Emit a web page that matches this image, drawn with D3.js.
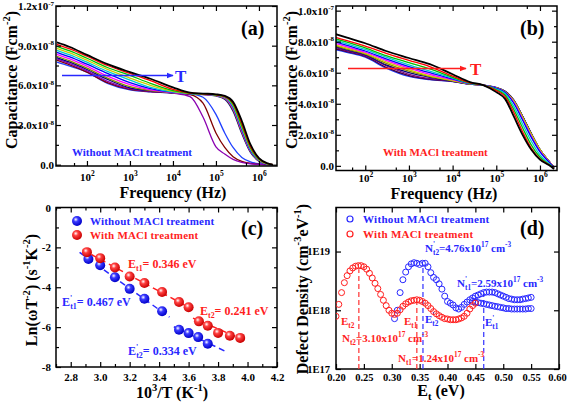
<!DOCTYPE html>
<html><head><meta charset="utf-8">
<script src="https://cdn.jsdelivr.net/npm/d3@7"></script>
<style>body{margin:0;background:#fff}svg{display:block}</style>
</head><body><svg id="c" width="567" height="406"></svg>
<script>
// ---------- DATA ----------
// (a),(b) frequency sample points (Hz)
const freqHz = [20, 40, 100, 300, 1000, 3000, 1e4, 2.5e4, 5e4, 1e5, 1.6e5, 2.5e5, 4e5, 6.3e5, 1e6, 1.6e6, 2.1e6];
// (a) capacitance, units 1e-8 F cm^-2 (without MACl)
const a1 = [9.25, 8.9, 8.3, 7.6, 7.0, 6.5, 5.85, 5.45, 5.38, 5.32, 5.2, 4.75, 3.3, 1.55, 0.5, 0.1, 0.0];
const a2 = [9.1, 8.75, 8.2, 7.5, 6.9, 6.35, 5.7, 5.42, 5.36, 5.3, 5.17, 4.65, 3.1, 1.4, 0.45, 0.08, 0.0];
const a3 = [8.95, 8.6, 8.05, 7.35, 6.75, 6.15, 5.6, 5.4, 5.35, 5.28, 5.14, 4.55, 2.95, 1.3, 0.4, 0.07, 0.0];
const a4 = [8.8, 8.45, 7.9, 7.2, 6.55, 6.0, 5.55, 5.4, 5.34, 5.27, 5.12, 4.5, 2.85, 1.25, 0.38, 0.06, 0.0];
const a5 = [8.65, 8.3, 7.75, 7.05, 6.4, 5.85, 5.5, 5.38, 5.33, 5.26, 5.1, 4.4, 2.75, 1.18, 0.35, 0.05, 0.0];
const a6 = [8.5, 8.15, 7.6, 6.9, 6.2, 5.75, 5.48, 5.38, 5.33, 5.25, 5.08, 4.35, 2.65, 1.1, 0.32, 0.05, 0.0];
const a7 = [8.35, 8.0, 7.45, 6.7, 6.05, 5.65, 5.46, 5.37, 5.32, 5.24, 5.05, 4.25, 2.55, 1.05, 0.3, 0.04, 0.0];
const a8 = [8.2, 7.85, 7.3, 6.55, 5.9, 5.6, 5.45, 5.37, 5.32, 5.22, 5.0, 4.15, 2.45, 1.0, 0.28, 0.04, 0.0];
const a9 = [8.1, 7.75, 7.2, 6.45, 5.8, 5.58, 5.44, 5.36, 5.3, 5.2, 4.95, 4.05, 2.35, 0.95, 0.26, 0.03, 0.0];
const a10 = [8.0, 7.65, 7.1, 6.3, 5.75, 5.55, 5.42, 5.15, 3.6, 1.35, 0.8, 0.4, 0.18, 0.07, 0.02, 0.0, 0.0];
const a11 = [7.9, 7.55, 7.0, 6.2, 5.7, 5.52, 5.42, 5.3, 4.65, 2.4, 1.3, 0.6, 0.25, 0.1, 0.03, 0.0, 0.0];
const a12 = [7.75, 7.45, 7.0, 6.15, 5.65, 5.5, 5.42, 5.35, 5.1, 3.8, 2.4, 1.3, 0.55, 0.22, 0.07, 0.01, 0.0];
const colorsA = ['#000000','#ff0000','#00c000','#cccc00','#00cccc','#0000ff','#ff00ff','#8c8c00','#000080','#8a00b0','#800000','#2040ff'];
// (b) capacitance, units 1e-8 F cm^-2 (with MACl)
const b1 = [8.5, 8.25, 7.9, 7.4, 6.95, 6.55, 5.9, 5.4, 5.2, 4.75, 4.3, 3.2, 2.0, 1.05, 0.4, 0.05, -0.2];
const b2 = [8.3, 8.05, 7.72, 7.25, 6.8, 6.4, 5.78, 5.35, 5.2, 4.85, 4.45, 3.45, 2.2, 1.15, 0.45, 0.07, -0.18];
const b3 = [8.2, 7.95, 7.6, 7.1, 6.65, 6.25, 5.7, 5.33, 5.2, 4.9, 4.55, 3.65, 2.45, 1.35, 0.55, 0.1, -0.16];
const b4 = [8.1, 7.85, 7.5, 7.0, 6.5, 6.1, 5.65, 5.32, 5.2, 4.95, 4.65, 3.85, 2.7, 1.6, 0.7, 0.15, -0.15];
const b5 = [8.0, 7.75, 7.4, 6.9, 6.4, 6.0, 5.6, 5.3, 5.2, 5.0, 4.72, 4.05, 2.95, 1.85, 0.9, 0.25, -0.12];
const b6 = [7.9, 7.65, 7.32, 6.8, 6.3, 5.9, 5.55, 5.3, 5.2, 5.0, 4.72, 4.1, 3.0, 1.9, 0.95, 0.27, -0.1];
const b7 = [7.8, 7.57, 7.25, 6.7, 6.2, 5.8, 5.5, 5.28, 5.2, 5.02, 4.76, 4.2, 3.15, 2.05, 1.05, 0.3, -0.1];
const b8 = [7.75, 7.5, 7.2, 6.6, 6.1, 5.75, 5.48, 5.28, 5.2, 5.02, 4.76, 4.2, 3.15, 2.05, 1.05, 0.3, -0.1];
const b9 = [7.7, 7.45, 7.15, 6.5, 6.0, 5.7, 5.46, 5.27, 5.2, 5.03, 4.78, 4.22, 3.18, 2.08, 1.05, 0.3, -0.1];
const b10 = [7.62, 7.4, 7.1, 6.45, 5.9, 5.62, 5.45, 5.27, 5.2, 5.03, 4.78, 4.22, 3.18, 2.08, 1.05, 0.3, -0.1];
const b11 = [7.55, 7.35, 7.05, 6.35, 5.82, 5.58, 5.44, 5.26, 5.2, 5.04, 4.8, 4.25, 3.2, 2.1, 1.05, 0.3, -0.1];
const b12 = [7.5, 7.3, 7.0, 6.3, 5.76, 5.55, 5.43, 5.26, 5.2, 5.05, 4.8, 4.25, 3.2, 2.1, 1.05, 0.3, -0.1];
const colorsB = ['#000000','#ff0000','#00c000','#00cccc','#0000ff','#ff00ff','#cccc00','#8c8c00','#000080','#800080','#400040','#2040ff'];
// (c) Arrhenius points
const tInvBlue = [2.92, 3.00, 3.10, 3.20, 3.30, 3.42, 3.535, 3.60, 3.665, 3.73];
const lnBlue = [-2.58, -2.90, -3.50, -4.08, -4.58, -5.20, -6.13, -6.30, -6.50, -6.83];
const tInvRed = [2.91, 3.00, 3.10, 3.20, 3.30, 3.42, 3.535, 3.60, 3.67, 3.73, 3.80, 3.88, 3.95];
const lnRed = [-2.24, -2.54, -3.01, -3.46, -3.79, -4.24, -4.74, -5.00, -5.71, -5.93, -6.29, -6.43, -6.54];
const fitBlue1 = [[2.86, -2.25], [3.47, -5.50]];
const fitBlue2 = [[3.50, -5.98], [3.86, -7.25]];
const fitRed1 = [[2.88, -2.12], [3.62, -5.08]];
const fitRed2 = [[3.63, -5.55], [4.00, -6.72]];
// (d) defect density, units 1e17 cm^-3 eV^-1
const etRed = [0.200,0.205,0.210,0.215,0.220,0.225,0.230,0.235,0.240,0.245,0.250,0.255,0.260,0.265,0.270,0.275,0.280,0.285,0.290,0.295,0.300,0.305,0.310,0.315,0.320,0.325,0.330,0.335,0.340,0.345,0.350,0.355,0.360,0.365,0.370,0.375,0.380,0.385,0.390,0.395,0.400,0.405,0.410,0.415,0.420,0.425,0.430,0.435,0.440,0.445,0.450];
const ntRed = [7.9,12.6,20.0,29.5,38.9,46.8,52.5,56.2,57.5,57.5,55.0,50.1,42.7,35.5,28.8,23.4,18.6,14.8,12.0,10.0,8.9,8.5,8.9,10.2,11.7,12.9,13.8,14.5,14.8,15.1,14.8,14.1,13.2,12.0,10.7,9.5,8.7,8.1,7.6,7.2,7.1,6.9,6.9,6.9,7.1,7.4,7.9,8.9,10.5,12.0,13.2];
const etBlue = [0.305,0.310,0.315,0.320,0.325,0.330,0.335,0.340,0.345,0.350,0.355,0.360,0.365,0.370,0.375,0.380,0.385,0.390,0.395,0.400,0.405,0.410,0.415,0.420,0.425,0.430,0.435,0.440,0.445,0.450,0.455,0.460,0.465,0.470,0.475,0.480,0.485,0.490,0.495,0.500,0.505,0.510,0.515,0.520,0.525,0.530,0.535,0.540,0.545,0.550];
const ntBlue = [7.2,10.0,20.0,33.1,44.7,55.0,61.7,64.6,63.1,60.3,63.1,63.1,55.0,43.7,36.3,33.1,28.2,22.9,17.4,14.1,13.2,12.3,11.0,10.5,11.2,12.6,13.8,15.1,16.2,17.4,18.2,19.1,20.0,20.4,20.4,20.4,20.0,19.1,18.2,17.4,16.6,15.8,15.5,15.1,15.1,15.1,15.5,15.8,16.2,16.6];
const etBlueLow = [0.445,0.450,0.455,0.460,0.465,0.470,0.475,0.480,0.485,0.490,0.495,0.500,0.505,0.510,0.515,0.520,0.525,0.530,0.535,0.540,0.545,0.550];
const ntBlueLow = [14.1,13.8,13.5,13.2,12.9,12.6,12.3,12.0,11.7,11.5,11.2,11.0,10.7,10.7,10.5,10.5,10.5,10.5,10.5,10.5,10.7,10.7];
const dropEt = [0.241, 0.345, 0.356, 0.465];
const dropTop = [50, 14, 60, 19];
const dropColor = ['#ff3030', '#ff3030', '#3030ff', '#3030ff'];

// ---------- DRAWING ----------
const svg = d3.select('#c');
const FONT = "'Liberation Serif','Times New Roman',serif";
const BLUE = '#2828ff', RED = '#ff1e1e';

function rich(g, x, y, segs, size, fill) {
  const t = g.append('text').attr('x', x).attr('y', y).attr('font-size', size)
    .attr('font-family', FONT).attr('font-weight', 'bold').attr('fill', fill || '#000');
  let cur = 0;
  segs.forEach(s => {
    if (typeof s === 'string') s = {t: s};
    const off = s.sup ? -0.42 * size : s.sub ? 0.28 * size : 0;
    const ts = t.append('tspan').text(s.t).attr('dy', off - cur);
    if (s.sup || s.sub) ts.attr('font-size', size * 0.66);
    if (s.dx) ts.attr('dx', s.dx);
    cur = off;
  });
  return t;
}

function frame(x, y, o) {
  const [x0, x1] = x.range(), [y0, y1] = y.range();
  const add = (tr, ax) => {
    const g = svg.append('g').attr('transform', tr).call(ax);
    g.select('.domain').remove();
    g.selectAll('line').attr('stroke', '#000').attr('stroke-width', 1.2);
    g.selectAll('text').attr('font-family', FONT).attr('font-weight', 'bold').attr('font-size', o.fs || 11).attr('fill', '#000');
    return g;
  };
  const bx = add(`translate(0,${y0})`, d3.axisBottom(x).tickValues(o.xMaj).tickSize(-5).tickPadding(o.xPad).tickFormat(o.xFmt));
  add(`translate(0,${y0})`, d3.axisBottom(x).tickValues(o.xMin).tickSize(-3).tickFormat(''));
  add(`translate(0,${y1})`, d3.axisTop(x).tickValues(o.xMaj).tickSize(-5).tickFormat(''));
  add(`translate(0,${y1})`, d3.axisTop(x).tickValues(o.xMin).tickSize(-3).tickFormat(''));
  const ly = add(`translate(${x0},0)`, d3.axisLeft(y).tickValues(o.yMaj).tickSize(-5).tickPadding(o.yPad).tickFormat(o.yFmt));
  add(`translate(${x0},0)`, d3.axisLeft(y).tickValues(o.yMin).tickSize(-3).tickFormat(''));
  add(`translate(${x1},0)`, d3.axisRight(y).tickValues(o.yMaj).tickSize(-5).tickFormat(''));
  add(`translate(${x1},0)`, d3.axisRight(y).tickValues(o.yMin).tickSize(-3).tickFormat(''));
  if (o.xRich) bx.selectAll('.tick text').each(function(d){ o.xRich(d3.select(this), d); });
  if (o.yRich) ly.selectAll('.tick text').each(function(d){ o.yRich(d3.select(this), d); });
  svg.append('rect').attr('x', x0).attr('y', y1).attr('width', x1 - x0).attr('height', y0 - y1)
    .attr('fill', 'none').attr('stroke', '#000').attr('stroke-width', 1.5);
  return bx;
}
function clip(id, x, y) {
  const [x0, x1] = x.range(), [y0, y1] = y.range();
  svg.append('clipPath').attr('id', id).append('rect').attr('x', x0).attr('y', y1).attr('width', x1 - x0).attr('height', y0 - y1);
}
const pow10Rich = (t, d) => { const e = Math.round(Math.log10(d)); t.text(''); t.append('tspan').text('10'); t.append('tspan').attr('dy', -5).attr('font-size', 7.5).text(e); };
const sciRich = (t, d) => {
  t.text('');
  if (d === 0) { t.append('tspan').text('0.0'); return; }
  const e = Math.floor(Math.log10(d) + 1e-9); const m = d / Math.pow(10, e);
  t.append('tspan').text(m.toFixed(1) + 'x10'); t.append('tspan').attr('dy', -4.5).attr('font-size', 7).text(e);
};

const defs = svg.append('defs');
[['gB', '#3a3aff', '#0000c8'], ['gR', '#ff4040', '#c80000']].forEach(([id, c1, c2]) => {
  const gr = defs.append('radialGradient').attr('id', id).attr('cx', '38%').attr('cy', '35%').attr('r', '65%');
  gr.append('stop').attr('offset', '0%').attr('stop-color', '#ffffff');
  gr.append('stop').attr('offset', '35%').attr('stop-color', c1);
  gr.append('stop').attr('offset', '100%').attr('stop-color', c2);
});
defs.append('marker').attr('id', 'arB').attr('viewBox', '0 0 10 10').attr('refX', 9).attr('refY', 5)
  .attr('markerWidth', 7).attr('markerHeight', 7).attr('markerUnits', 'userSpaceOnUse').attr('orient', 'auto')
  .append('path').attr('d', 'M0,1L10,5L0,9z').attr('fill', BLUE);
defs.append('marker').attr('id', 'arR').attr('viewBox', '0 0 10 10').attr('refX', 9).attr('refY', 5)
  .attr('markerWidth', 7).attr('markerHeight', 7).attr('markerUnits', 'userSpaceOnUse').attr('orient', 'auto')
  .append('path').attr('d', 'M0,1L10,5L0,9z').attr('fill', RED);

// ----- Panel (a) -----
{
  const x = d3.scaleLog().domain([Math.pow(10, 1.28), Math.pow(10, 6.42)]).range([56, 277]);
  const y = d3.scaleLinear().domain([-0.1e-8, 1.2e-7]).range([166, 6]);
  clip('clipA', x, y);
  const line = d3.line().x((d, i) => x(freqHz[i])).y(d => y(d * 1e-8)).curve(d3.curveMonotoneX);
  const series = [a1, a2, a3, a4, a5, a6, a7, a8, a9, a10, a11, a12];
  const g = svg.append('g').attr('clip-path', 'url(#clipA)');
  series.map((s, i) => [s, i]).reverse().forEach(([s, i]) => {
    g.append('path').attr('d', line(s)).attr('fill', 'none').attr('stroke', colorsA[i]).attr('stroke-width', i === 0 ? 1.8 : 1.3);
  });
  frame(x, y, {xMaj: [1e2, 1e3, 1e4, 1e5, 1e6], xMin: [50, 500, 5e3, 5e4, 5e5], xPad: 7, xFmt: d => d, xRich: pow10Rich,
    yMaj: [0, 3e-8, 6e-8, 9e-8, 1.2e-7], yMin: [1.5e-8, 4.5e-8, 7.5e-8, 1.05e-7], yPad: 2, yFmt: d => d, yRich: sciRich});
  svg.append('line').attr('x1', 62).attr('x2', 173).attr('y1', 75.5).attr('y2', 75.5).attr('stroke', BLUE).attr('stroke-width', 1.6).attr('marker-end', 'url(#arB)');
  rich(svg, 175, 82, ['T'], 17, BLUE);
  rich(svg, 72, 156, ['Without MACl treatment'], 11, BLUE);
  rich(svg, 241, 35, ['(a)'], 20, '#000');
  rich(svg, 0, 0, ['Capacitance (Fcm', {t: '-2', sup: true}, ')'], 16).attr('text-anchor', 'middle').attr('transform', 'translate(17,80) rotate(-90)');
  rich(svg, 173, 198, ['Frequency (Hz)'], 16).attr('text-anchor', 'middle');
}
// ----- Panel (b) -----
{
  const x = d3.scaleLog().domain([Math.pow(10, 1.33), Math.pow(10, 6.39)]).range([336, 557]);
  const y = d3.scaleLinear().domain([-0.3e-8, 1.03e-7]).range([170.5, 6]);
  clip('clipB', x, y);
  const line = d3.line().x((d, i) => x(freqHz[i])).y(d => y(d * 1e-8)).curve(d3.curveMonotoneX);
  const series = [b1, b2, b3, b4, b5, b6, b7, b8, b9, b10, b11, b12];
  const g = svg.append('g').attr('clip-path', 'url(#clipB)');
  series.map((s, i) => [s, i]).reverse().forEach(([s, i]) => {
    g.append('path').attr('d', line(s)).attr('fill', 'none').attr('stroke', colorsB[i]).attr('stroke-width', i === 0 ? 1.8 : 1.3);
  });
  frame(x, y, {xMaj: [1e2, 1e3, 1e4, 1e5, 1e6], xMin: [50, 500, 5e3, 5e4, 5e5], xPad: 4, xFmt: d => d, xRich: pow10Rich,
    yMaj: [0, 2e-8, 4e-8, 6e-8, 8e-8, 1e-7], yMin: [1e-8, 3e-8, 5e-8, 7e-8, 9e-8], yPad: 2, yFmt: d => d, yRich: sciRich});
  svg.append('line').attr('x1', 348).attr('x2', 466).attr('y1', 68.5).attr('y2', 68.5).attr('stroke', RED).attr('stroke-width', 1.6).attr('marker-end', 'url(#arR)');
  rich(svg, 470, 75, ['T'], 17, RED);
  rich(svg, 383, 156, ['With MACl treatment'], 11, RED);
  rich(svg, 520, 35, ['(b)'], 20, '#000');
  rich(svg, 0, 0, ['Capacitance (Fcm', {t: '-2', sup: true}, ')'], 16).attr('text-anchor', 'middle').attr('transform', 'translate(297,80) rotate(-90)');
  rich(svg, 444, 199, ['Frequency (Hz)'], 16).attr('text-anchor', 'middle');
}
// ----- Panel (c) -----
{
  const x = d3.scaleLinear().domain([2.7, 4.2]).range([56, 277]);
  const y = d3.scaleLinear().domain([-8, 0]).range([367, 207.5]);
  frame(x, y, {xMaj: [2.8, 3.0, 3.2, 3.4, 3.6, 3.8, 4.0, 4.2], xMin: [2.7, 2.9, 3.1, 3.3, 3.5, 3.7, 3.9, 4.1], xPad: 6, xFmt: d3.format('.1f'),
    yMaj: [0, -2, -4, -6, -8], yMin: [-1, -3, -5, -7], yPad: 5, yFmt: d => d === 0 ? '0' : String(d)});
  const ln = d3.line().x(d => x(d[0])).y(d => y(d[1]));
  [[fitBlue1, BLUE], [fitBlue2, BLUE], [fitRed1, RED], [fitRed2, RED]].forEach(([f, c]) => {
    svg.append('path').attr('d', ln(f)).attr('stroke', c).attr('stroke-width', 1.5).attr('stroke-dasharray', '6,4').attr('fill', 'none');
  });
  svg.append('g').selectAll('circle').data(tInvBlue).join('circle')
    .attr('cx', d => x(d)).attr('cy', (d, i) => y(lnBlue[i])).attr('r', 5).attr('fill', 'url(#gB)');
  svg.append('g').selectAll('circle').data(tInvRed).join('circle')
    .attr('cx', d => x(d)).attr('cy', (d, i) => y(lnRed[i])).attr('r', 5).attr('fill', 'url(#gR)');
  svg.append('circle').attr('cx', 77).attr('cy', 221).attr('r', 5).attr('fill', 'url(#gB)');
  svg.append('circle').attr('cx', 77).attr('cy', 235).attr('r', 5).attr('fill', 'url(#gR)');
  rich(svg, 90, 225, ['Without MACl treatment'], 11, BLUE).attr('letter-spacing', 0.2);
  rich(svg, 90, 239, ['With MACl treatment'], 11, RED).attr('letter-spacing', 0.2);
  rich(svg, 241, 235, ['(c)'], 20, '#000');
  rich(svg, 128, 268, ['E', {t: 't1', sub: true}, '= 0.346 eV'], 12, RED);
  rich(svg, 200, 315, ['E', {t: 't2', sub: true}, '= 0.241 eV'], 12, RED);
  rich(svg, 62, 306, ['E', {t: "'", sup: true}, {t: 't1', sub: true, dx: -2}, '= 0.467 eV'], 12, BLUE);
  rich(svg, 128, 355, ['E', {t: "'", sup: true}, {t: 't2', sub: true, dx: -2}, '= 0.334 eV'], 12, BLUE);
  rich(svg, 0, 0, ['Ln(ωT', {t: '-2', sup: true}, ') (s', {t: '-1', sup: true}, 'K', {t: '-2', sup: true}, ')'], 16).attr('text-anchor', 'middle').attr('transform', 'translate(37,290) rotate(-90)');
  rich(svg, 172, 398, ['10', {t: '3', sup: true}, '/T (K', {t: '-1', sup: true}, ')'], 16).attr('text-anchor', 'middle');
}
// ----- Panel (d) -----
{
  const x = d3.scaleLinear().domain([0.2, 0.6]).range([336, 559]);
  const y = d3.scaleLog().domain([1e17, Math.pow(10, 19.75)]).range([369, 207.5]);
  clip('clipD', x, y);
  const bx = frame(x, y, {xMaj: [0.2, 0.25, 0.3, 0.35, 0.4, 0.45, 0.5, 0.55, 0.6], xMin: [], xPad: 5, xFmt: d3.format('.2f'), fs: 10.5,
    yMaj: [1e17, 1e18, 1e19], yMin: [], yPad: 6, yFmt: d => '1E' + Math.round(Math.log10(d))});
  bx.selectAll('.tick text').filter(d => d > 0.59).attr('dx', -2);
  dropEt.forEach((e, i) => {
    svg.append('line').attr('x1', x(e)).attr('x2', x(e)).attr('y1', y(1e17)).attr('y2', y(dropTop[i] * 1e17))
      .attr('stroke', dropColor[i]).attr('stroke-width', 1.2).attr('stroke-dasharray', '5,3');
  });
  const g = svg.append('g').attr('clip-path', 'url(#clipD)');
  const dots = (ex, nv, c) => g.append('g').selectAll('circle').data(ex).join('circle')
    .attr('cx', d => x(d)).attr('cy', (d, i) => y(nv[i] * 1e17)).attr('r', 3)
    .attr('fill', 'none').attr('stroke', c).attr('stroke-width', 1);
  dots(etBlue, ntBlue, BLUE);
  dots(etBlueLow, ntBlueLow, BLUE);
  dots(etRed, ntRed, RED);
  svg.append('circle').attr('cx', 350).attr('cy', 219).attr('r', 3).attr('fill', 'none').attr('stroke', BLUE).attr('stroke-width', 1.2);
  svg.append('circle').attr('cx', 350).attr('cy', 234).attr('r', 3).attr('fill', 'none').attr('stroke', RED).attr('stroke-width', 1.2);
  rich(svg, 363, 223, ['Without MACl treatment'], 11, BLUE).attr('letter-spacing', 0.3);
  rich(svg, 363, 238, ['With MACl treatment'], 11, RED).attr('letter-spacing', 0.3);
  rich(svg, 520, 235, ['(d)'], 20, '#000');
  rich(svg, 425, 252, ['N', {t: "'", sup: true}, {t: 't2', sub: true, dx: -2}, '=4.76x10', {t: '17', sup: true}, ' cm', {t: '-3', sup: true}], 11, BLUE);
  rich(svg, 457, 287, ['N', {t: "'", sup: true}, {t: 't1', sub: true, dx: -2}, '=2.59x10', {t: '17', sup: true}, ' cm', {t: '-3', sup: true}], 11, BLUE);
  rich(svg, 341, 325, ['E', {t: 't2', sub: true}], 11, RED);
  rich(svg, 404, 325, ['E', {t: 't1', sub: true}], 11, RED);
  rich(svg, 425, 323, ['E', {t: "'", sup: true}, {t: 't2', sub: true, dx: -2}], 11, BLUE);
  rich(svg, 485, 326, ['E', {t: "'", sup: true}, {t: 't1', sub: true, dx: -2}], 11, BLUE);
  rich(svg, 342, 342, ['N', {t: 't2', sub: true}, '=3.10x10', {t: '17', sup: true}, ' cm', {t: '-3', sup: true}], 11, RED);
  rich(svg, 398, 362, ['N', {t: 't1', sub: true}, '=1.24x10', {t: '17', sup: true}, ' cm', {t: '-3', sup: true}], 11, RED);
  rich(svg, 0, 0, ['Defect Density (cm', {t: '-3', sup: true}, 'eV', {t: '-1', sup: true}, ')'], 16).attr('text-anchor', 'middle').attr('transform', 'translate(308,289) rotate(-90)');
  rich(svg, 441, 396, ['E', {t: 't', sub: true}, ' (eV)'], 16).attr('text-anchor', 'middle');
}
</script></body></html>
